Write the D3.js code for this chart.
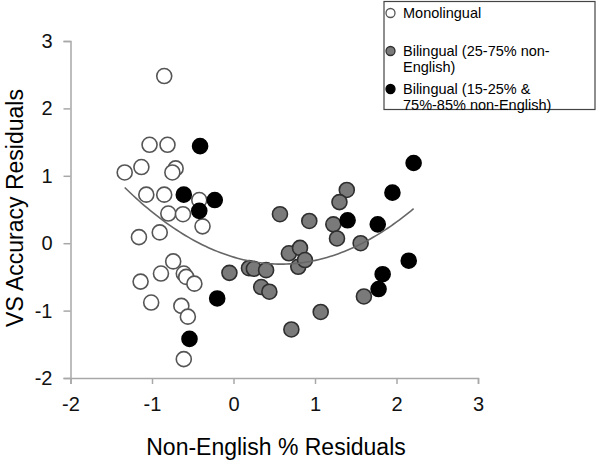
<!DOCTYPE html>
<html>
<head>
<meta charset="utf-8">
<script src="https://cdn.jsdelivr.net/npm/d3@7"></script>
<style>
  html, body { margin: 0; padding: 0; background: #fff; }
  svg { display: block; font-family: Arial, "Liberation Sans", sans-serif; }
</style>
</head>
<body>
<svg id="chart" width="600" height="463"></svg>
<script>
// ---- Data ----
const monoX = [-0.85, -1.03, -0.81, -1.335, -1.13, -0.71, -0.75, -1.07, -0.85, -0.42, -0.80, -0.62, -0.38, -1.16, -0.905, -0.74, -0.89, -0.61, -0.58, -0.48, -1.14, -1.01, -0.64, -0.56, -0.61];
const monoY = [2.48, 1.46, 1.46, 1.05, 1.13, 1.11, 1.05, 0.72, 0.72, 0.64, 0.44, 0.43, 0.25, 0.09, 0.16, -0.27, -0.45, -0.45, -0.50, -0.60, -0.57, -0.88, -0.93, -1.09, -1.72];

const biMidX = [-0.05, 0.19, 0.25, 0.40, 0.34, 0.44, 0.57, 0.93, 0.68, 0.816, 0.795, 0.877, 1.07, 0.71, 1.39, 1.30, 1.225, 1.27, 1.56, 1.60];
const biMidY = [-0.44, -0.37, -0.38, -0.40, -0.65, -0.72, 0.43, 0.33, -0.15, -0.07, -0.35, -0.25, -1.02, -1.28, 0.79, 0.61, 0.28, 0.07, 0.00, -0.79];

const biEdgeX = [-0.41, -0.61, -0.23, -0.42, -0.54, -0.20, 1.40, 1.95, 2.21, 1.77, 2.15, 1.83, 1.78];
const biEdgeY = [1.44, 0.72, 0.64, 0.48, -1.42, -0.82, 0.34, 0.75, 1.19, 0.28, -0.26, -0.46, -0.68];

// polynomial trendline (order 2) coefficients: y = a x^2 + b x + c
const trendCoef = [0.31, -0.36, -0.206];
const trendRange = [-1.335, 2.21];

const xTicks = [-2, -1, 0, 1, 2, 3];
const yTicks = [-2, -1, 0, 1, 2, 3];

const legendLabels = [["Monolingual"], ["Bilingual (25-75% non-", "English)"], ["Bilingual (15-25% &", "75%-85% non-English)"]];
const xTitle = "Non-English % Residuals";
const yTitle = "VS Accuracy Residuals";

// ---- Drawing ----
const svg = d3.select("#chart");
const x = d3.scaleLinear().domain([-2, 3]).range([70.5, 478]);
const y = d3.scaleLinear().domain([-2, 3]).range([378, 41]);
const axisColor = "#a8a8a8";
const fmt = d => String(d);

// axes
const gx = svg.append("g").attr("transform", `translate(0,${y(-2)})`)
  .call(d3.axisBottom(x).tickValues(xTicks).tickFormat(fmt).tickSizeOuter(0).tickSize(6));
const gy = svg.append("g").attr("transform", `translate(${x(-2)},0)`)
  .call(d3.axisLeft(y).tickValues(yTicks).tickFormat(fmt).tickSizeOuter(0).tickSize(7));
[gx, gy].forEach(g => {
  g.select(".domain").attr("stroke", axisColor).attr("stroke-width", 1.5);
  g.selectAll(".tick line").attr("stroke", axisColor).attr("stroke-width", 1.5);
  g.selectAll(".tick text").attr("fill", "#111").attr("font-size", 20)
    .attr("font-family", "Arial, 'Liberation Sans', sans-serif");
});
gx.selectAll(".tick text").attr("dy", "1.2em");
gy.selectAll(".tick text").attr("dx", "-0.4em");

// axis titles
svg.append("text").attr("x", 276).attr("y", 455).attr("text-anchor", "middle")
  .attr("font-size", 23).attr("fill", "#000").text(xTitle);
svg.append("text").attr("transform", `translate(23,208) rotate(-90)`).attr("text-anchor", "middle")
  .attr("font-size", 23).attr("fill", "#000").text(yTitle);

// trendline
const tl = d3.range(0, 101).map(i => {
  const xv = trendRange[0] + (trendRange[1] - trendRange[0]) * i / 100;
  return [xv, trendCoef[0] * xv * xv + trendCoef[1] * xv + trendCoef[2]];
});

const r = 7.5;
function drawGroup(xs, ys, fill, stroke) {
  svg.append("g").selectAll("circle").data(xs.map((d, i) => [d, ys[i]])).join("circle")
    .attr("cx", d => x(d[0])).attr("cy", d => y(d[1])).attr("r", r)
    .attr("fill", fill).attr("stroke", stroke).attr("stroke-width", 1.6);
}
drawGroup(monoX, monoY, "#fff", "#555");
drawGroup(biMidX, biMidY, "#7a7a7a", "#2e2e2e");
drawGroup(biEdgeX, biEdgeY, "#000", "#000");

svg.append("path").datum(tl)
  .attr("d", d3.line().x(d => x(d[0])).y(d => y(d[1])))
  .attr("fill", "none").attr("stroke", "#666").attr("stroke-width", 1.6);

// legend
const lg = svg.append("g");
lg.append("rect").attr("x", 384).attr("y", 1.5).attr("width", 211).attr("height", 108)
  .attr("fill", "#fff").attr("stroke", "#444").attr("stroke-width", 1.2);
const legendStyles = [["#fff", "#555"], ["#7a7a7a", "#2e2e2e"], ["#000", "#000"]];
const legendY = [13, 51, 89];
legendLabels.forEach((lines, i) => {
  lg.append("circle").attr("cx", 390.5).attr("cy", legendY[i]).attr("r", 4.5)
    .attr("fill", legendStyles[i][0]).attr("stroke", legendStyles[i][1]).attr("stroke-width", 1.3);
  lines.forEach((t, j) => {
    lg.append("text").attr("x", 403).attr("y", legendY[i] + 5 + j * 16)
      .attr("font-size", 14.5).attr("fill", "#000").text(t);
  });
});
</script>
</body>
</html>
